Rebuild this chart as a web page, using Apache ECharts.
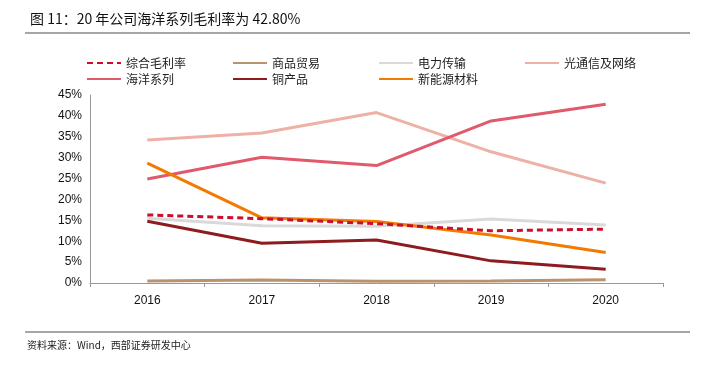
<!DOCTYPE html>
<html><head><meta charset="utf-8">
<script src="https://cdn.jsdelivr.net/npm/echarts@6/dist/echarts.min.js"></script>
<style>html,body{margin:0;padding:0;background:#fff}#c{width:710px;height:370px}</style>
</head><body><div id="c"></div>
<script>
const categories = ['2016','2017','2018','2019','2020'];
const seriesNames = ['综合毛利率','商品贸易','电力传输','光通信及网络','海洋系列','铜产品','新能源材料'];
const zonghe = [16.3, 15.4, 14.2, 12.5, 12.9];
const shangpin = [0.5, 0.7, 0.4, 0.5, 0.8];
const dianli = [15.5, 13.7, 13.6, 15.3, 13.9];
const guangtongxin = [34.2, 35.9, 40.8, 31.4, 23.9];
const haiyang = [24.9, 30.1, 28.1, 38.8, 42.8];
const tong = [14.8, 9.5, 10.3, 5.3, 3.3];
const xinnengyuan = [28.7, 15.6, 14.7, 11.5, 7.3];
const yTicks = [0, 5, 10, 15, 20, 25, 30, 35, 40, 45];
const titleText = '图 11：20 年公司海洋系列毛利率为 42.80%';
const sourceText = '资料来源：Wind，西部证券研发中心';

const dataList = [zonghe, shangpin, dianli, guangtongxin, haiyang, tong, xinnengyuan];
const colors = ['#C8102E', '#B8936E', '#D9D9D9', '#EDB1A6', '#E05A6C', '#8E1B1E', '#F27A00'];
const legendPos = [[81,52],[227,52],[373,52],[519,52],[81,68],[227,68],[373,68]];
const font = '"Noto Sans CJK SC", sans-serif';

const chart = echarts.init(document.getElementById('c'), null, {renderer:'canvas'});
const series = seriesNames.map((n, i) => ({
  name: n, type: 'line', data: dataList[i], symbol: 'none', z: i === 0 ? 10 : 3,
  lineStyle: { color: colors[i], width: 3, type: i === 0 ? [6, 4] : 'solid' },
  itemStyle: { color: colors[i] }
}));
series[4].z = 4; series[6].z = 5;
const legends = seriesNames.map((n, i) => ({
  data: [n], left: legendPos[i][0], top: legendPos[i][1], itemWidth: 34, itemHeight: 10, itemGap: 6,
  itemStyle: { opacity: 0 },
  textStyle: { fontSize: 12, color: '#222', fontFamily: font }
}));
chart.setOption({
  animation: false,
  title: { text: titleText, left: 25, top: 7, textStyle: { fontSize: 14, fontWeight: 'normal', color: '#111', fontFamily: font } },
  legend: legends,
  grid: { left: 90, right: 47, top: 95, bottom: 87 },
  xAxis: {
    type: 'category', data: categories, boundaryGap: true,
    axisLine: { lineStyle: { color: '#999' } },
    axisTick: { show: true, alignWithLabel: false, length: 4, lineStyle: { color: '#999' } },
    axisLabel: { color: '#111', fontSize: 12, fontFamily: 'Arial, "Liberation Sans"', margin: 12 }
  },
  yAxis: {
    type: 'value', min: 0, max: 45, interval: 5,
    axisLine: { show: true, lineStyle: { color: '#999' } },
    axisTick: { show: false },
    splitLine: { show: false },
    axisLabel: { color: '#111', fontSize: 12, fontFamily: 'Arial, "Liberation Sans"', formatter: v => yTicks.includes(v) ? v + '%' : '' }
  },
  graphic: [
    { type: 'line', shape: { x1: 25, y1: 33, x2: 690, y2: 33 }, style: { stroke: '#888', lineWidth: 1.5 } },
    { type: 'line', shape: { x1: 25, y1: 332, x2: 690, y2: 332 }, style: { stroke: '#888', lineWidth: 1.5 } },
    { type: 'text', left: 27, top: 340, style: { text: sourceText, fontSize: 10, fill: '#222', fontFamily: font } }
  ],
  series: series
});
</script></body></html>
